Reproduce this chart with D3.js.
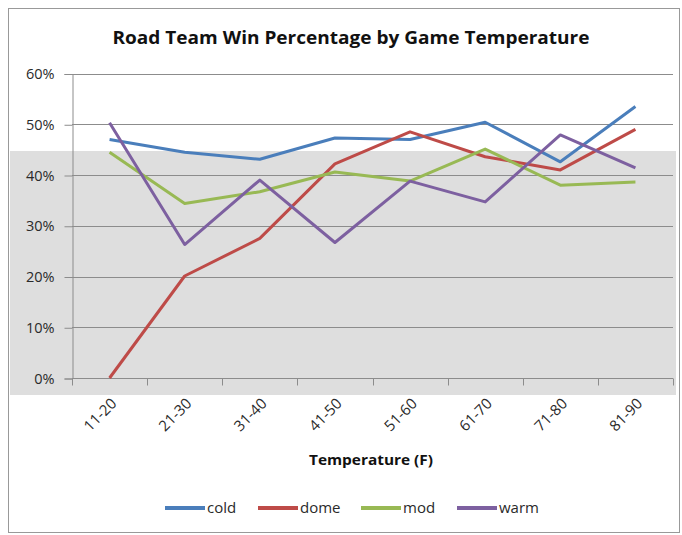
<!DOCTYPE html>
<html>
<head>
<meta charset="utf-8">
<script src="https://cdn.jsdelivr.net/npm/d3@7"></script>
<style>
  body { margin: 0; background: #fff; }
  text { font-family: "Open Sans", "DejaVu Sans", sans-serif; fill: #2a2a2a; }
</style>
</head>
<body>
<svg id="chart" width="682" height="535"></svg>
<script>
// temperature buckets and road-team win share (fraction) per climate type
const temps = ["11-20", "21-30", "31-40", "41-50", "51-60", "61-70", "71-80", "81-90"];
const cold = [0.470, 0.445, 0.431, 0.473, 0.470, 0.504, 0.426, 0.535];
const dome = [0.000, 0.201, 0.275, 0.422, 0.485, 0.436, 0.410, 0.490];
const mod  = [0.445, 0.344, 0.367, 0.406, 0.388, 0.451, 0.380, 0.386];
const warm = [0.503, 0.263, 0.390, 0.267, 0.388, 0.347, 0.479, 0.414];
const yTicks = [0, 0.1, 0.2, 0.3, 0.4, 0.5, 0.6];

const series = [
    { name: "cold", vals: cold, color: "#4a7ebb" },
    { name: "dome", vals: dome, color: "#be4b48" },
    { name: "mod",  vals: mod,  color: "#98b954" },
    { name: "warm", vals: warm, color: "#7d60a0" }
];

const svg = d3.select("#chart");
const plotL = 72, plotR = 673, plotT = 73.5, plotB = 378;

// outer frame + the grey band from the photo host overlay
svg.append("rect").attr("x", 8.5).attr("y", 8.5).attr("width", 671).attr("height", 524)
    .attr("fill", "#fff").attr("stroke", "#999");
svg.append("rect").attr("x", 10).attr("y", 151).attr("width", 666).attr("height", 244)
    .attr("fill", "#dedede");

const x = d3.scaleBand().domain(temps).range([plotL, plotR]);
const y = d3.scaleLinear().domain([0, 0.6]).range([plotB, plotT]);

// gridlines
svg.append("g").selectAll("line").data(yTicks.filter(d => d > 0)).enter().append("line")
    .attr("x1", plotL).attr("x2", plotR)
    .attr("y1", d => Math.round(y(d)) + 0.5).attr("y2", d => Math.round(y(d)) + 0.5)
    .attr("stroke", "#8c8c8c");

// y axis
const yAxis = svg.append("g").attr("transform", `translate(${plotL + 0.5},0.5)`)
    .call(d3.axisLeft(y).tickValues(yTicks).tickFormat(d3.format(".0%")).tickSize(8).tickPadding(10));
yAxis.select(".domain").attr("stroke", "#8c8c8c");
yAxis.selectAll(".tick line").attr("stroke", "#8c8c8c");
yAxis.selectAll("text").attr("font-size", 14.5).style("fill", "#2a2a2a")
    .style("font-family", "'Open Sans', sans-serif");

// x axis: ticks on band edges
const xAxis = svg.append("g").attr("transform", `translate(0,${plotB + 0.5})`);
xAxis.append("line").attr("x1", plotL).attr("x2", plotR).attr("stroke", "#8c8c8c");
xAxis.selectAll(".edge").data(d3.range(temps.length + 1)).enter().append("line")
    .attr("x1", i => Math.round(plotL + i * x.step()) + 0.5)
    .attr("x2", i => Math.round(plotL + i * x.step()) + 0.5)
    .attr("y1", 0).attr("y2", 7).attr("stroke", "#8c8c8c");
xAxis.selectAll("text").data(temps).enter().append("text")
    .attr("transform", d => `translate(${x(d) + x.bandwidth() / 2 + 8},${26}) rotate(-45)`)
    .attr("text-anchor", "end").attr("font-size", 15).text(d => d);

// lines
const line = d3.line().x((d, i) => x(temps[i]) + x.bandwidth() / 2).y(d => y(d));
svg.append("g").selectAll("path").data(series).enter().append("path")
    .attr("d", d => line(d.vals))
    .attr("fill", "none").attr("stroke", d => d.color)
    .attr("stroke-width", 3).attr("stroke-linejoin", "round");

// titles
svg.append("text").attr("x", 351).attr("y", 44).attr("text-anchor", "middle")
    .attr("font-size", 17).attr("font-weight", "bold").style("fill", "#111")
    .attr("textLength", 477).attr("lengthAdjust", "spacingAndGlyphs")
    .text("Road Team Win Percentage by Game Temperature");
svg.append("text").attr("x", 371).attr("y", 465).attr("text-anchor", "middle")
    .attr("font-size", 14).attr("font-weight", "bold").style("fill", "#111")
    .attr("textLength", 124).attr("lengthAdjust", "spacingAndGlyphs")
    .text("Temperature (F)");

// legend
const legendX = [165, 258, 361, 457];
const lg = svg.append("g").selectAll("g").data(series).enter().append("g")
    .attr("transform", (d, i) => `translate(${legendX[i]},508)`);
lg.append("line").attr("x1", 0).attr("x2", 40).attr("stroke", d => d.color).attr("stroke-width", 4);
lg.append("text").attr("x", 42).attr("y", 5).attr("font-size", 15).text(d => d.name);
</script>
</body>
</html>
